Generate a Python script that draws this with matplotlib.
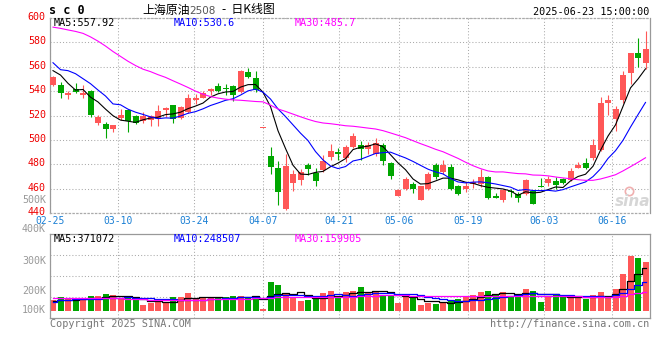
import matplotlib.pyplot as plt
import matplotlib.transforms as mtransforms
import numpy as np

plt.rcParams["font.family"] = ["DejaVu Sans Mono"]

# daily candles, 2025-02-25 .. 2025-06-23 (80 trading days)
opens = [545.0, 545.0, 536.6, 541.8, 537.1, 540.4, 514.1, 513.0, 508.9, 518.2,
         524.3, 519.6, 515.5, 516.3, 516.9, 524.5, 528.6, 517.7, 523.2, 532.7,
         534.6, 540.4, 544.2, 542.3, 544.2, 539.5, 555.7, 551.0, 509.5, 486.8,
         477.2, 443.3, 464.9, 467.1, 479.4, 472.6, 475.3, 485.7, 490.0, 484.9,
         494.4, 495.8, 492.3, 488.4, 495.8, 480.8, 454.2, 459.7, 463.8, 450.7,
         459.5, 479.4, 473.9, 478.0, 462.4, 459.5, 463.8, 463.8, 469.8, 454.2,
         450.7, 458.3, 455.6, 455.6, 458.3, 462.4, 464.4, 466.5, 467.9, 467.1,
         477.2, 481.3, 485.4, 491.7, 530.0, 517.1, 532.7, 554.6, 571.0, 562.8]
highs = [552.5, 547.8, 540.1, 547.0, 545.0, 541.0, 520.4, 515.0, 512.5, 525.3,
         525.1, 520.4, 523.2, 520.5, 528.6, 527.2, 529.0, 527.5, 537.4, 537.4,
         540.1, 542.3, 546.4, 545.6, 545.0, 557.5, 559.2, 556.5, 509.5, 494.4,
         482.7, 488.4, 475.3, 476.1, 480.8, 476.7, 487.6, 496.6, 493.4, 495.8,
         505.9, 499.1, 498.5, 501.3, 497.2, 482.1, 460.0, 469.8, 465.7, 462.5,
         474.0, 480.8, 483.5, 480.0, 463.0, 465.2, 467.7, 475.9, 470.6, 456.7,
         459.7, 459.7, 457.5, 467.7, 459.0, 469.0, 470.6, 469.8, 469.0, 477.2,
         481.6, 485.4, 500.7, 534.9, 536.8, 527.8, 556.5, 571.5, 583.8, 589.3]
lows = [544.5, 534.6, 533.3, 538.2, 534.6, 519.0, 512.2, 501.8, 506.7, 516.3,
        506.7, 513.0, 513.6, 511.4, 511.4, 518.5, 514.1, 517.0, 521.8, 529.5,
        534.1, 536.8, 539.5, 536.8, 532.2, 538.5, 551.0, 539.5, 509.5, 472.0,
        446.6, 442.5, 458.3, 463.0, 471.2, 462.4, 473.9, 483.5, 483.5, 482.1,
        493.0, 483.5, 488.4, 486.8, 479.4, 467.7, 454.0, 458.9, 456.2, 450.5,
        459.0, 467.7, 472.0, 458.9, 454.8, 457.0, 460.8, 461.6, 451.5, 452.1,
        448.8, 453.4, 448.8, 454.8, 447.0, 461.6, 462.4, 459.5, 463.8, 466.5,
        476.7, 476.1, 483.5, 491.1, 520.4, 507.5, 530.0, 545.6, 560.0, 557.9]
closes = [551.8, 538.7, 538.2, 539.3, 538.7, 520.4, 519.0, 508.9, 512.2, 520.7,
          515.8, 514.1, 519.6, 519.6, 524.0, 526.4, 516.9, 526.7, 534.1, 534.6,
          538.7, 541.5, 540.1, 541.5, 536.8, 556.5, 551.6, 540.9, 509.5, 478.0,
          457.5, 478.9, 472.0, 473.4, 476.1, 466.3, 482.9, 491.1, 488.4, 494.4,
          503.4, 492.3, 495.8, 497.7, 482.9, 470.4, 458.9, 467.7, 459.7, 462.2,
          472.0, 469.8, 479.4, 459.5, 455.4, 462.4, 465.2, 469.8, 452.6, 452.1,
          458.9, 457.0, 452.1, 467.1, 447.2, 461.6, 467.9, 463.0, 464.9, 474.5,
          479.4, 477.2, 495.8, 530.5, 532.7, 525.3, 553.2, 571.5, 566.9, 574.6]
# volume, thousands of lots
volumes = [95, 121, 101, 95, 101, 129, 129, 147, 138, 109,
           109, 101, 52, 72, 81, 66, 121, 121, 155, 109,
           109, 109, 109, 121, 129, 129, 121, 129, 17, 250,
           224, 155, 109, 86, 95, 109, 155, 173, 109, 164,
           173, 207, 155, 173, 138, 138, 72, 121, 121, 52,
           66, 60, 72, 90, 104, 118, 138, 164, 173, 138,
           164, 121, 147, 190, 173, 81, 121, 147, 121, 121,
           115, 104, 140, 165, 130, 190, 322, 477, 457, 423]

# averages before enough days are on screen
ma5_head = [556.8, 553.2, 546.4, 540.9]
ma10_head = [563.3, 557.6, 556.8, 554.3, 550.2, 546.1, 540.9, 536.0, 529.5]
ma30_head = [592.5, 591.5, 590.2, 589.0, 587.4, 584.5, 581.0, 577.0, 572.5, 568.5,
             564.5, 561.0, 558.0, 556.0, 553.5, 551.3, 548.5, 545.8, 543.0, 540.0,
             537.5, 535.5, 534.3, 533.4, 532.8, 532.5, 532.0, 531.5, 531.2]
vma5_head = [86, 95, 95, 95]
vma10_head = [80, 95, 97, 100, 100, 102, 105, 112, 115]
vma30_head = [108, 108, 109, 109, 110, 110, 110, 111, 111, 111,
              105, 103, 100, 98, 97, 96, 96, 96, 97, 97,
              98, 100, 102, 104, 105, 106, 107, 108, 108]

tick_idx = [0, 9, 19, 28, 38, 46, 55, 65, 74]
tick_labels = ["02-25", "03-10", "03-24", "04-07", "04-21",
               "05-06", "05-19", "06-03", "06-16"]
price_ticks = [440, 460, 480, 500, 520, 540, 560, 580, 600]
vol_labels = ["500K", "400K", "300K", "200K", "100K"]

RED = "#ff5757"
GREEN = "#00a600"
GRID = "#aaaaaa"
FRAME = "#999999"
DOT = (0, (1, 2))


def moving_avg(vals, n, head):
    vals = np.asarray(vals, float)
    tail = [vals[i - n + 1:i + 1].mean() for i in range(n - 1, len(vals))]
    return np.array(list(head) + tail)


def fpos(x, y):
    return x / 660, 1 - y / 360


o = np.array(opens)
h = np.array(highs)
l = np.array(lows)
c = np.array(closes)
v = np.array(volumes, float)
x = np.arange(len(c))
colors = np.where(c >= o, RED, GREEN)

fig = plt.figure(figsize=(6.6, 3.6), dpi=100)
ax = fig.add_axes([50 / 660, 1 - 213 / 360, 600 / 660, 195 / 360])
axv = fig.add_axes([50 / 660, 1 - 318 / 360, 600 / 660, 84 / 360])

x0, x1 = -0.4, len(c) - 0.4
grid_x = [x0 + i * (x1 - x0) / (len(c) - 1) for i in tick_idx]

# price panel
ax.vlines(x, l, h, colors=colors, lw=0.8, zorder=2)
ax.bar(x, np.maximum(np.abs(c - o), 0.8), width=0.8, bottom=np.minimum(o, c),
       color=colors, lw=0, zorder=3)
ax.plot(x, moving_avg(c, 5, ma5_head), color="black", lw=0.8, zorder=4)
ax.plot(x, moving_avg(c, 10, ma10_head), color="#0000ff", lw=0.8, zorder=4)
ax.plot(x, moving_avg(c, 30, ma30_head), color="#ff00ff", lw=0.8, zorder=4)
ax.set_xlim(x0, x1)
ax.set_ylim(440, 600)
ax.set_yticks(price_ticks)
ax.set_xticks(grid_x, tick_labels)
ax.tick_params(axis="y", length=0, pad=3, labelcolor="#ee0000", labelsize=7.2)
ax.tick_params(axis="x", length=0, pad=2, labelcolor="#1a7fd4", labelsize=7.0)
ax.grid(True, color=GRID, lw=0.75, linestyle=DOT)
lift = mtransforms.ScaledTranslation(0, 2 / 100, fig.dpi_scale_trans)
for lab in ax.get_yticklabels():
    lab.set_transform(lab.get_transform() + lift)

# volume panel
axv.bar(x, v, width=0.8, color=colors, lw=0, zorder=2)
axv.plot(x, moving_avg(v, 5, vma5_head), color="black", lw=0.9,
         drawstyle="steps-mid", zorder=3)
axv.plot(x, moving_avg(v, 10, vma10_head), color="#0000ff", lw=0.9,
         drawstyle="steps-mid", zorder=3)
axv.plot(x, moving_avg(v, 30, vma30_head), color="#ff00ff", lw=0.9,
         drawstyle="steps-mid", zorder=3)
axv.set_xlim(x0, x1)
vlo, vhi = -60.4, 664.5
axv.set_ylim(vlo, vhi)
axv.set_yticks([vlo + f * (vhi - vlo) for f in (0.25, 0.5, 0.75)])
axv.set_xticks(grid_x)
axv.tick_params(length=0, labelleft=False, labelbottom=False)
axv.grid(True, color=GRID, lw=0.75, linestyle=DOT)

for a in (ax, axv):
    a.set_facecolor("white")
    a.set_axisbelow(True)
    for s in a.spines.values():
        s.set_color(FRAME)
        s.set_linewidth(0.9)
for side in ("top", "bottom"):
    ax.spines[side].set_linestyle(DOT)
    ax.spines[side].set_color(GRID)

# header
fig.text(*fpos(49, 11), "s c 0", ha="left", va="center", weight="bold", size=8.5)
cjk = ["Noto Sans CJK SC", "DejaVu Sans"]
fig.text(*fpos(142, 10), "上海原油", ha="left", va="center", family=cjk, size=8.6)
fig.text(*fpos(189, 11), "2508", ha="left", va="center", color="#555555",
         family="DejaVu Sans", size=7.5)
fig.text(*fpos(222, 10), "-  日K线图", ha="left", va="center", family=cjk, size=8.6)
fig.text(*fpos(649, 12), "2025-06-23 15:00:00", ha="right", va="center", size=7.3)

ma_font = dict(ha="left", va="center", size=7.3)
fig.text(*fpos(54, 23), "MA5:557.92", color="black", **ma_font)
fig.text(*fpos(174, 23), "MA10:530.6", color="#0000ff", **ma_font)
fig.text(*fpos(295, 23), "MA30:485.7", color="#ff00ff", **ma_font)
fig.text(*fpos(54, 239), "MA5:371072", color="black", **ma_font)
fig.text(*fpos(174, 239), "MA10:248507", color="#0000ff", **ma_font)
fig.text(*fpos(295, 239), "MA30:159905", color="#ff00ff", **ma_font)

for lab, yy in zip(vol_labels, (200, 229, 261, 291, 310)):
    fig.text(*fpos(46, yy), lab, ha="right", va="center", color="#999999", size=7.2)

fig.text(*fpos(50, 324), "Copyright 2025 SINA.COM", ha="left", va="center",
         color="#777777", size=7.3)
fig.text(*fpos(649, 324), "http://finance.sina.com.cn", ha="right", va="center",
         color="#777777", size=7.3)

# watermark
fig.text(*fpos(650, 202), "sina", ha="right", va="center", color="#d6d6d6",
         family="DejaVu Sans", style="italic", weight="bold", size=11)
ax.plot([0.965], [0.115], "o", transform=ax.transAxes, ms=6, mfc="none",
        mec="#f0b0b0", mew=1.2, zorder=1)

fig.savefig("out.png", dpi=100, facecolor="white")
